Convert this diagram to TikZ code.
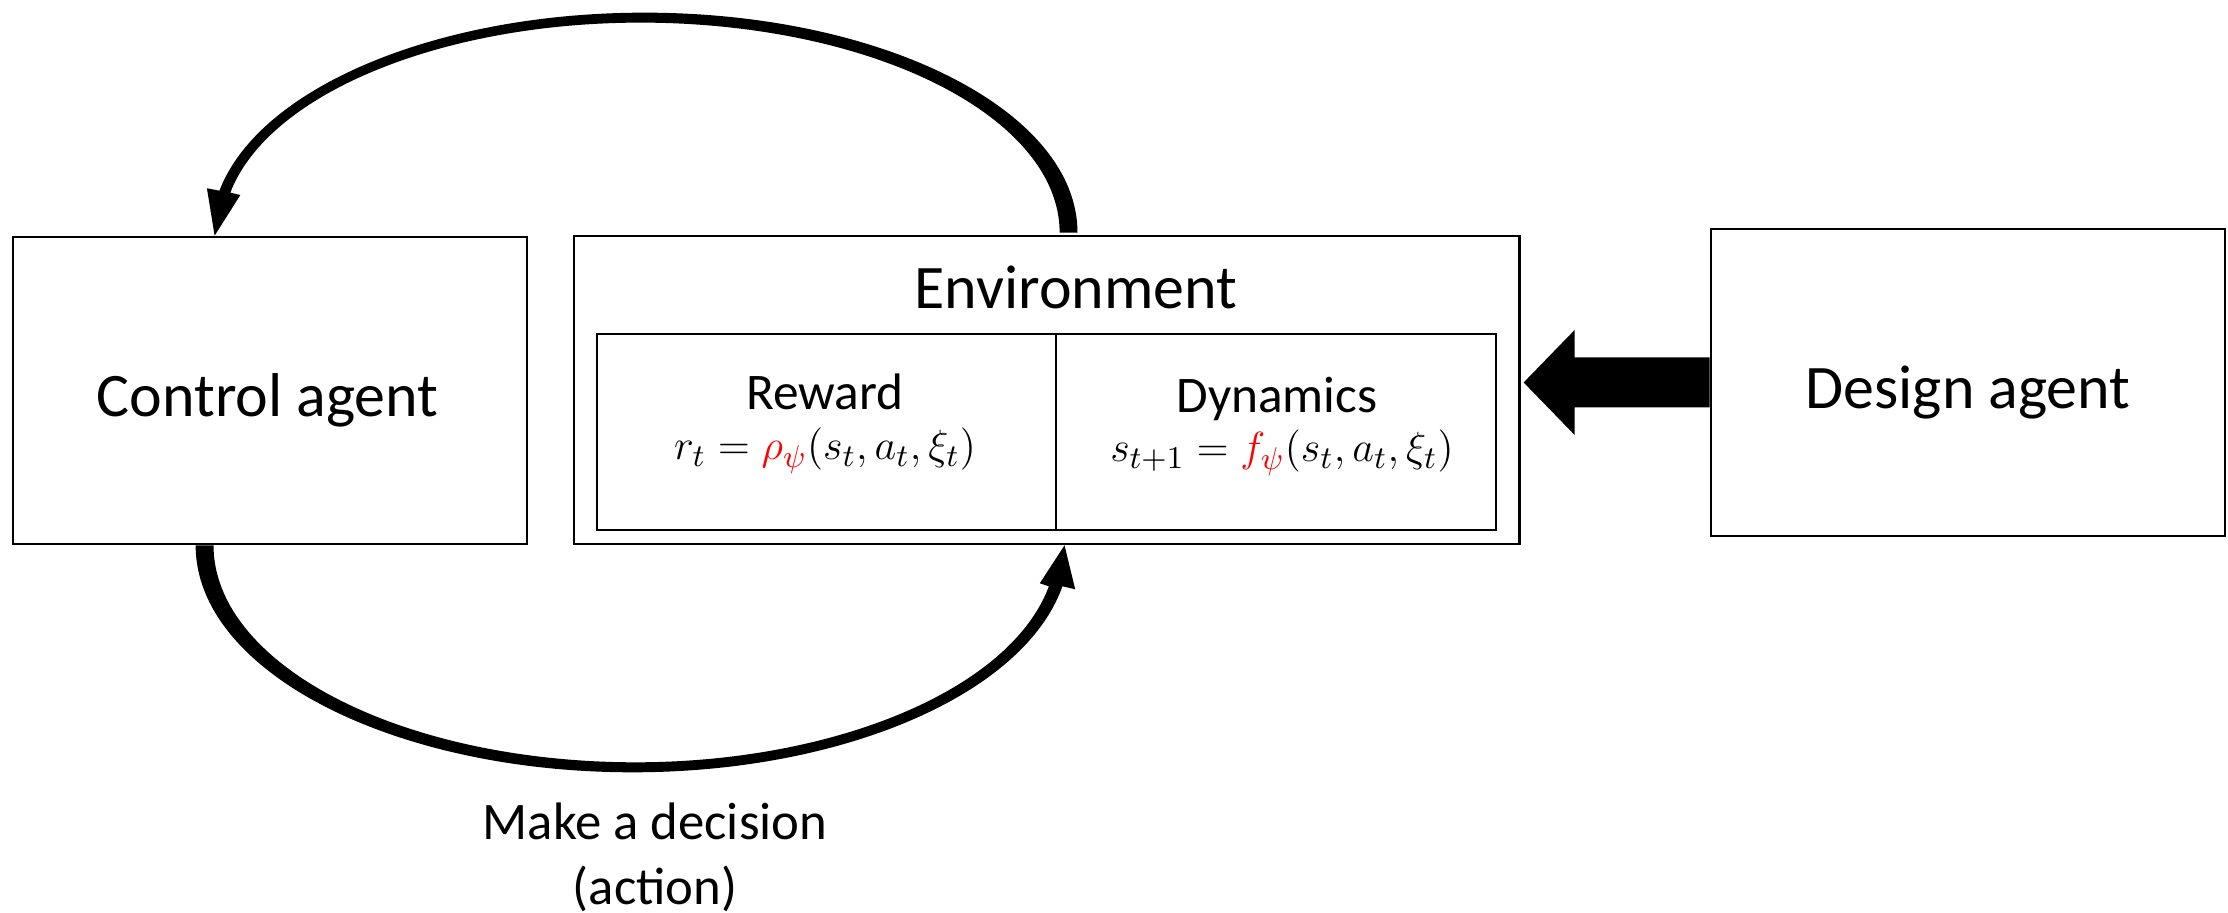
\documentclass[tikz,border=0pt]{standalone}
\usepackage{fontspec}
\setmainfont{Carlito}
\usetikzlibrary{calc}

\begin{document}
\begin{tikzpicture}[x=0.01cm,y=0.01cm,line width=0.7pt,
    box/.style={draw,rectangle,inner sep=0pt},
    big/.style={font=\fontsize{17.6}{21}\selectfont,anchor=base},
    small/.style={font=\fontsize{14.6}{18}\selectfont,anchor=base},
    formula/.style={font=\fontsize{12.8}{16}\selectfont,anchor=base},
    note/.style={font=\fontsize{15}{18}\selectfont,anchor=base}]
\useasboundingbox (0,0) rectangle (2228,913);

            \node[box,minimum width=5.14cm,minimum height=3.07cm] (ctrl) at (270,522.5) {};
            \node[box,minimum width=9.45cm,minimum height=3.08cm] (env) at (1046.5,523) {};
            \node[box,minimum width=4.59cm,minimum height=1.96cm] (rew) at (826.5,481) {};
            \node[box,minimum width=4.40cm,minimum height=1.96cm] (dyn) at (1276,481) {};
            \node[box,minimum width=5.14cm,minimum height=3.07cm] (des) at (1968,530.5) {};

            \node[big] (ctrltxt) at (267.5,496) {Control agent};
            \node[big] (destxt) at (1968,504) {Design agent};
            \node[big] (envtxt) at (1076,604) {Environment};
            \node[small] (rewtxt) at (825,503) {Reward};
            \node[formula] (rewfun) at (825,453) {$r_t = {\color{red}\rho_\psi}(s_t, a_t, \xi_t)$};
            \node[small] (dyntxt) at (1277,500) {Dynamics};
            \node[formula] (dynfun) at (1282,451) {$s_{t+1} = {\color{red}f_\psi}(s_t, a_t, \xi_t)$};
            \node[note] (act1) at (655,73) {Make a decision};
            \node[note] (act2) at (655,8) {(action)};

            \coordinate (obs from) at ($(env.north west)+(496,0)$);
            \coordinate (obs to) at ($(ctrl.north west)+(203,0)$);
            \coordinate (act from) at ($(ctrl.south west)+(193,0)$);
            \coordinate (act to) at ($(env.south west)+(492,0)$);

            % feedback from the environment, tapered
            \fill ($(obs from)+(9,2)$) arc[start angle=0,end angle=169,x radius=433,y radius=220]
                -- ($(obs to)+(-7.7,47.4)$) -- (obs to) -- ($(obs to)+(25.7,40.6)$) -- ($(obs to)+(15.69,43.07)$)
                arc[start angle=169,end angle=0,x radius=418.5,y radius=210] -- cycle;

            % action, tapered
            \fill ($(act from)+(-9,0)$) arc[start angle=180,end angle=349.6,x radius=437,y radius=227]
                -- ($(act to)+(10.7,-44)$) -- (act to) -- ($(act to)+(-24.7,-38)$) -- ($(act to)+(-15.6,-41)$)
                arc[start angle=349.1,end angle=180,x radius=421.5,y radius=217] -- cycle;

            % design agent to environment
            \fill ($(des.west)+(0,25)$) -- ++(-135,0) -- ++(0,27.5) -- ($(des.west)+(-186,0)$)
                -- ($(des.west)+(-135,-52.5)$) -- ++(0,27.5) -- ($(des.west)+(0,-25)$) -- cycle;

            ;
\end{tikzpicture}
\end{document}
